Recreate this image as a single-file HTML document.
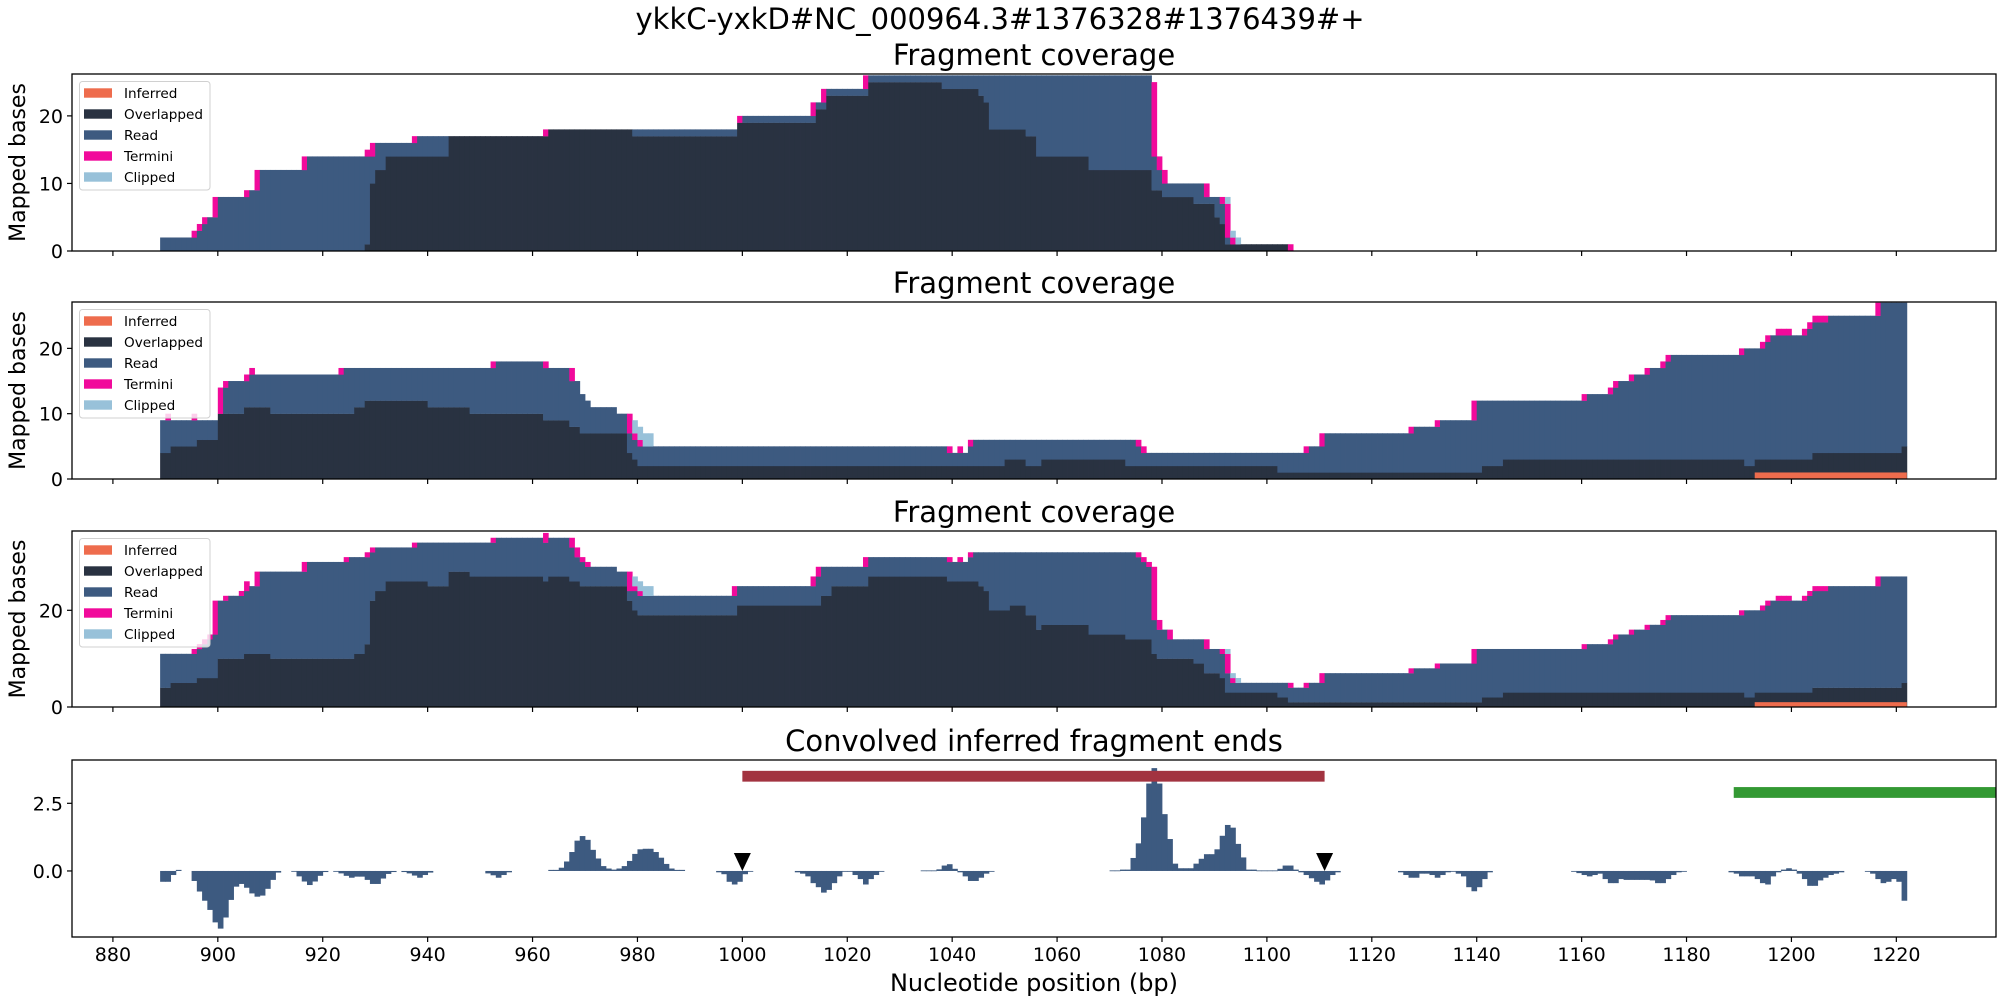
<!DOCTYPE html>
<html><head><meta charset="utf-8"><style>
html,body{margin:0;padding:0;background:#fff;}
svg{display:block;font-family:"DejaVu Sans","Liberation Sans",sans-serif;}
</style></head><body>
<svg id="fig" width="2000" height="1000" viewBox="0 0 2000 1000" xmlns="http://www.w3.org/2000/svg">
<rect width="2000" height="1000" fill="#fff"/>
<text x="1000" y="29" font-size="29" text-anchor="middle" fill="#000">ykkC-yxkD#NC_000964.3#1376328#1376439#+</text>
<text x="1034" y="991" font-size="24" text-anchor="middle" fill="#000">Nucleotide position (bp)</text>
</svg>
<script>
// ---------- data ----------
const xTicks = [880,900,920,940,960,980,1000,1020,1040,1060,1080,1100,1120,1140,1160,1180,1200,1220];
const coverageTitles = ["Fragment coverage","Fragment coverage","Fragment coverage"];
const legendLabels = ["Inferred","Overlapped","Read","Termini","Clipped"];

const p1Overlapped = [[889,0],[928,1],[929,10],[930,12],[932,14],[944,17],[963,18],[979,17],[999,19],[1014,21],[1016,23],[1024,25],[1038,24],[1045,23],[1046,22],[1047,18],[1054,17],[1056,14],[1066,12],[1078,9],[1080,8],[1086,7],[1090,5],[1091,4],[1092,1],[1104,0]];
const p1Read = [[889,2],[896,3],[897,4],[898,5],[900,8],[906,9],[908,12],[917,14],[930,16],[938,17],[963,18],[1000,20],[1014,22],[1016,24],[1024,26],[1078,14],[1079,12],[1080,10],[1088,8],[1091,7],[1092,2],[1093,1],[1104,0]];
const p1Termini = [[895,3],[896,4],[897,5],[899,8],[905,9],[907,12],[916,14],[928,15],[929,16],[937,17],[962,18],[999,20],[1013,22],[1015,24],[1023,26],[1078,25],[1079,14],[1080,12],[1088,10],[1091,8],[1092,7],[1093,2],[1104,1]];
const p1Clipped = [[1092,8],[1093,3],[1094,2]];
const p1Inferred = [];

const p2Overlapped = [[889,4],[891,5],[896,6],[900,10],[905,11],[910,10],[926,11],[928,12],[940,11],[948,10],[962,9],[967,8],[969,7],[978,4],[979,3],[980,2],[1050,3],[1054,2],[1057,3],[1073,2],[1102,1],[1141,2],[1145,3],[1191,2],[1193,3],[1204,4],[1221,5],[1222,0]];
const p2Read = [[889,9],[900,10],[901,14],[902,15],[906,16],[924,17],[953,18],[962,17],[967,15],[969,13],[970,12],[971,11],[976,10],[978,7],[979,6],[980,5],[1039,4],[1043,5],[1044,6],[1075,5],[1076,4],[1108,5],[1111,7],[1128,8],[1133,9],[1140,12],[1161,13],[1166,14],[1167,15],[1170,16],[1173,17],[1176,18],[1177,19],[1191,20],[1195,21],[1196,22],[1203,23],[1204,24],[1207,25],[1217,27],[1222,0]];
const p2Termini = [[890,10],[895,10],[900,14],[901,15],[905,16],[906,17],[923,17],[952,18],[962,18],[967,17],[978,10],[979,7],[980,6],[1039,5],[1041,5],[1043,6],[1075,6],[1076,5],[1107,5],[1110,7],[1127,8],[1132,9],[1139,12],[1160,13],[1165,14],[1166,15],[1169,16],[1172,17],[1175,18],[1176,19],[1190,20],[1194,21],[1195,22],[1197,23],[1198,23],[1199,23],[1202,23],[1203,24],[1204,25],[1205,25],[1206,25],[1216,27]];
const p2Clipped = [[979,9],[980,8],[981,7],[982,7]];
const p2Inferred = [[1193,1222,1]];

const p3Overlapped = [[889,4],[891,5],[896,6],[900,10],[905,11],[910,10],[926,11],[928,13],[929,22],[930,24],[932,26],[940,25],[944,28],[948,27],[962,26],[963,27],[967,26],[969,25],[978,22],[979,20],[980,19],[999,21],[1015,23],[1017,25],[1024,27],[1039,26],[1045,25],[1046,24],[1047,20],[1051,21],[1054,19],[1056,16],[1057,17],[1066,15],[1073,14],[1078,11],[1079,10],[1086,9],[1088,7],[1091,6],[1092,3],[1102,2],[1104,1],[1141,2],[1145,3],[1191,2],[1193,3],[1204,4],[1221,5],[1222,0]];
const p3Read = [[889,11],[896,12],[897,13],[898,14],[899,15],[900,22],[902,23],[905,24],[906,25],[908,28],[917,30],[925,31],[929,32],[930,33],[938,34],[953,35],[962,34],[963,35],[967,33],[968,31],[969,30],[970,29],[976,28],[978,24],[980,23],[999,25],[1014,27],[1015,29],[1024,31],[1039,30],[1043,31],[1044,32],[1075,31],[1076,30],[1077,29],[1078,18],[1079,16],[1081,14],[1088,12],[1091,11],[1092,7],[1093,5],[1104,4],[1108,5],[1111,7],[1128,8],[1133,9],[1140,12],[1161,13],[1166,14],[1167,15],[1170,16],[1173,17],[1176,18],[1177,19],[1191,20],[1195,21],[1196,22],[1203,23],[1204,24],[1207,25],[1217,27],[1222,0]];
const p3Termini = [[895,12],[896,13],[897,14],[898,15],[899,22],[901,23],[904,24],[905,26],[907,28],[916,30],[924,31],[928,32],[929,33],[937,34],[952,35],[962,36],[967,35],[968,33],[969,31],[970,30],[978,28],[979,25],[980,24],[998,25],[1013,27],[1014,29],[1023,31],[1039,31],[1041,31],[1043,32],[1075,32],[1076,31],[1077,30],[1078,29],[1079,18],[1081,16],[1088,14],[1091,12],[1092,11],[1093,6],[1104,5],[1107,5],[1110,7],[1127,8],[1132,9],[1139,12],[1160,13],[1165,14],[1166,15],[1169,16],[1172,17],[1175,18],[1176,19],[1190,20],[1194,21],[1195,22],[1197,23],[1198,23],[1199,23],[1202,23],[1203,24],[1204,25],[1205,25],[1206,25],[1216,27]];
const p3Clipped = [[979,27],[980,26],[981,25],[982,25],[1092,12],[1093,7],[1094,6]];
const p3Inferred = [[1193,1222,1]];

const p1YTicks = [0,10,20];
const p2YTicks = [0,10,20];
const p3YTicks = [0,20];
const p4YTicks = [0.0,2.5];
const p4YTickLabels = ["0.0","2.5"];

const p4Positions = [889,890,891,892,895,896,897,898,899,900,901,902,903,904,905,906,907,908,909,910,911,914,915,916,917,918,919,920,922,923,924,925,926,927,928,929,930,931,932,933,935,936,937,938,939,940,951,952,953,954,955,963,964,965,966,967,968,969,970,971,972,973,974,975,976,977,978,979,980,981,982,983,984,985,986,987,988,995,996,997,998,999,1000,1001,1010,1011,1012,1013,1014,1015,1016,1017,1018,1019,1020,1021,1022,1023,1024,1025,1026,1034,1035,1036,1037,1038,1039,1040,1041,1042,1043,1044,1045,1046,1047,1070,1071,1072,1073,1074,1075,1076,1077,1078,1079,1080,1081,1082,1083,1084,1085,1086,1087,1088,1089,1090,1091,1092,1093,1094,1095,1096,1097,1098,1099,1100,1101,1102,1103,1104,1105,1106,1107,1108,1109,1110,1111,1112,1113,1125,1126,1127,1128,1129,1130,1131,1132,1133,1134,1135,1136,1137,1138,1139,1140,1141,1142,1158,1159,1160,1161,1162,1163,1164,1165,1166,1167,1168,1169,1170,1171,1172,1173,1174,1175,1176,1177,1178,1179,1188,1189,1190,1191,1192,1193,1194,1195,1196,1197,1198,1199,1200,1201,1202,1203,1204,1205,1206,1207,1208,1209,1214,1215,1216,1217,1218,1219,1220,1221];
const p4Values = [-0.4,-0.4,-0.15,0.04,-0.37,-0.76,-1.1,-1.44,-1.9,-2.13,-1.72,-1.07,-0.58,-0.48,-0.62,-0.83,-0.95,-0.91,-0.66,-0.33,-0.06,-0.02,-0.2,-0.39,-0.52,-0.39,-0.18,-0.04,-0.02,-0.09,-0.18,-0.25,-0.21,-0.21,-0.33,-0.48,-0.48,-0.28,-0.11,-0.04,-0.04,-0.09,-0.17,-0.25,-0.15,-0.06,-0.09,-0.16,-0.25,-0.15,-0.05,0.04,0.04,0.12,0.35,0.7,1.12,1.29,1.15,0.78,0.46,0.18,0.09,0.05,0.09,0.18,0.37,0.63,0.8,0.82,0.82,0.7,0.49,0.26,0.09,0.04,0.04,-0.05,-0.12,-0.4,-0.5,-0.4,-0.12,-0.02,-0.05,-0.1,-0.2,-0.45,-0.6,-0.8,-0.7,-0.45,-0.2,-0.03,-0.03,-0.15,-0.3,-0.5,-0.3,-0.15,-0.03,0.02,0.02,0.02,0.06,0.2,0.25,0.08,-0.05,-0.2,-0.37,-0.37,-0.25,-0.1,-0.02,0.02,0.02,0.05,0.05,0.48,1.02,1.98,3.23,3.8,3.23,2.1,1.18,0.27,0.1,0.1,0.1,0.27,0.45,0.62,0.62,0.8,1.3,1.7,1.6,1.0,0.5,0.05,0.05,0.02,0.02,0.02,0.02,0.08,0.2,0.2,0.05,-0.05,-0.15,-0.27,-0.4,-0.5,-0.35,-0.15,-0.05,-0.05,-0.15,-0.25,-0.25,-0.1,-0.1,-0.15,-0.25,-0.15,-0.05,-0.02,-0.1,-0.2,-0.6,-0.75,-0.6,-0.3,-0.05,-0.02,-0.08,-0.15,-0.2,-0.15,-0.1,-0.3,-0.45,-0.45,-0.3,-0.33,-0.33,-0.33,-0.33,-0.33,-0.35,-0.45,-0.45,-0.3,-0.15,-0.05,-0.02,-0.05,-0.1,-0.2,-0.2,-0.2,-0.3,-0.45,-0.5,-0.2,-0.05,0.05,0.1,0.05,-0.1,-0.3,-0.55,-0.55,-0.35,-0.25,-0.15,-0.1,-0.05,-0.03,-0.1,-0.3,-0.45,-0.4,-0.3,-0.4,-1.1];
const regionStarts = [1000,1189];
const regionEnds = [1111,1240];
const regionLevels = [3.5,2.9];
const markerPositions = [1000,1111];

// ---------- layout ----------
const NS = "http://www.w3.org/2000/svg";
const svg = document.getElementById("fig");
const L = 72, R = 1996, XMIN = 872.2, XMAX = 1239.0;
function xs(v){ return L + (v - XMIN) * (R - L) / (XMAX - XMIN); }
const C = {inferred:"#ee6c4d", over:"#293241", read:"#3d5a80", term:"#f10a9b", clip:"#98c1d9"};

function el(tag, attrs, parent){
  const e = document.createElementNS(NS, tag);
  for (const k in attrs) e.setAttribute(k, attrs[k]);
  (parent || svg).appendChild(e);
  return e;
}
function stepVal(steps, nt){
  let v = 0;
  for (const s of steps){ if (s[0] <= nt) v = s[1]; else break; }
  return v;
}
function ptVal(list, nt){
  for (const s of list) if (s[0] === nt) return s[1];
  return null;
}

function drawAxesFrame(g, top, bot, ys, yTicks, yLabels, showXLabels){
  // x ticks
  xTicks.forEach(t => {
    const x = xs(t);
    const tk = el("line", {x1:x, x2:x, y1:bot, y2:bot+5, stroke:"#000", "stroke-width":1.2}, g);
    
    
    if (showXLabels){
      const tl = el("text", {x:x, y:bot+24, "font-size":19, "text-anchor":"middle", fill:"#000"}, g);
      
      
      tl.textContent = String(t);
    }
  });
  yTicks.forEach((t, i) => {
    const y = ys(t);
    const tk = el("line", {x1:L-5, x2:L, y1:y, y2:y, stroke:"#000", "stroke-width":1.2}, g);
    
    
    const tl = el("text", {x:L-9, y:y+7, "font-size":19, "text-anchor":"end", fill:"#000"}, g);
    
    
    tl.textContent = yLabels ? yLabels[i] : String(t);
  });
  const fr = el("rect", {x:L, y:top, width:R-L, height:bot-top, fill:"none", stroke:"#000", "stroke-width":1.3}, g);
  
  
}

function drawCoverage(idx, top, bot, ymax, over, read, term, clip, inferred, yTicks){
  const g = el("g", {});
  
  
  const ys = v => bot - v * (bot - top) / ymax;
  const cp = el("clipPath", {id:"cp"+idx}, g);
  el("rect", {x:L, y:top, width:R-L, height:bot-top}, cp);
  const marks = el("g", {"clip-path":"url(#cp"+idx+")"}, g);
  
  
  const bar = (nt, a, b, col, name) => {
    if (b <= a) return;
    const r = el("rect", {x:xs(nt), y:ys(b), width:xs(nt+1)-xs(nt)+0.4, height:ys(a)-ys(b)+0.2, fill:col}, marks);
    
    
  };
  for (let nt = 885; nt <= 1225; nt++){
    const o = stepVal(over, nt), r = stepVal(read, nt);
    const t = ptVal(term, nt), c = ptVal(clip, nt);
    bar(nt, 0, o, C.over, 'overlapped-bar');
    bar(nt, o, r, C.read, 'read-bar');
    const base = Math.max(o, r);
    if (t !== null) bar(nt, base, t, C.term, 'termini-bar');
    if (c !== null) bar(nt, Math.max(base, t || 0), c, C.clip, 'clipped-bar');
  }
  inferred.forEach(s => {
    const r = el("rect", {x:xs(s[0]), y:ys(s[2]), width:xs(s[1])-xs(s[0]), height:ys(0)-ys(s[2]), fill:C.inferred}, marks);
    
    
  });
  drawAxesFrame(g, top, bot, ys, yTicks, null, false);
  // title
  const tt = el("text", {x:(L+R)/2, y:top-9, "font-size":29, "text-anchor":"middle", fill:"#000"}, g);
  
  
  tt.textContent = coverageTitles[idx];
  // y label
  const cy = (top+bot)/2;
  const yl = el("text", {x:0, y:0, transform:"translate(25,"+cy+") rotate(-90)", "font-size":22, "text-anchor":"middle", fill:"#000"}, g);
  
  
  yl.textContent = "Mapped bases";
  // legend
  const lg = el("g", {}, g);
  
  
  el("rect", {x:79.5, y:top+7.5, width:130.5, height:108.5, rx:3, fill:"#fff", "fill-opacity":0.8, stroke:"#d0d0d0", "stroke-width":1}, lg);
  const cols = [C.inferred, C.over, C.read, C.term, C.clip];
  legendLabels.forEach((lab, i) => {
    const cy2 = top + 19 + i*21;
    const e = el("g", {}, lg);
    
    
    el("rect", {x:84, y:cy2-4.7, width:28, height:9.4, fill:cols[i]}, e);
    const tx = el("text", {x:124, y:cy2+5, "font-size":13.6, fill:"#000"}, e);
    tx.textContent = lab;
  });
}

drawCoverage(0, 74, 251, 26.2, p1Overlapped, p1Read, p1Termini, p1Clipped, p1Inferred, p1YTicks);
drawCoverage(1, 302, 479, 27.1, p2Overlapped, p2Read, p2Termini, p2Clipped, p2Inferred, p2YTicks);
drawCoverage(2, 531, 707, 36.4, p3Overlapped, p3Read, p3Termini, p3Clipped, p3Inferred, p3YTicks);

// ---------- panel 4 ----------
(function(){
  const top = 760, bot = 937, YMIN = -2.44, YMAX = 4.1;
  const ys = v => bot - (v - YMIN) * (bot - top) / (YMAX - YMIN);
  const g = el("g", {});
  
  
  const cp = el("clipPath", {id:"cp4"}, g);
  el("rect", {x:L, y:top, width:R-L, height:bot-top}, cp);
  const marks = el("g", {"clip-path":"url(#cp4)"}, g);
  p4Positions.forEach((p, i) => {
    const v = p4Values[i];
    const y0 = ys(0), y1 = ys(v);
    const r = el("rect", {x:xs(p), y:Math.min(y0,y1), width:xs(p+1)-xs(p)+0.4, height:Math.max(0.8, Math.abs(y1-y0)), fill:C.read}, marks);
    
    
  });
  const regionColors = ["#a23340", "#339933"];
  regionStarts.forEach((s, i) => {
    const y = ys(regionLevels[i]);
    const r = el("rect", {x:xs(s), y:y-5.4, width:xs(regionEnds[i])-xs(s), height:10.8, fill:regionColors[i]}, marks);
    
    
  });
  markerPositions.forEach(p => {
    const x = xs(p), y = ys(0);
    const m = el("polygon", {points:(x-8.5)+","+(y-18)+" "+(x+8.5)+","+(y-18)+" "+x+","+y, fill:"#000"}, marks);
    
    
  });
  drawAxesFrame(g, top, bot, ys, p4YTicks, p4YTickLabels, true);
  const tt = el("text", {x:(L+R)/2, y:top-9, "font-size":29, "text-anchor":"middle", fill:"#000"}, g);
  
  
  tt.textContent = "Convolved inferred fragment ends";
})();
</script>
</body></html>
